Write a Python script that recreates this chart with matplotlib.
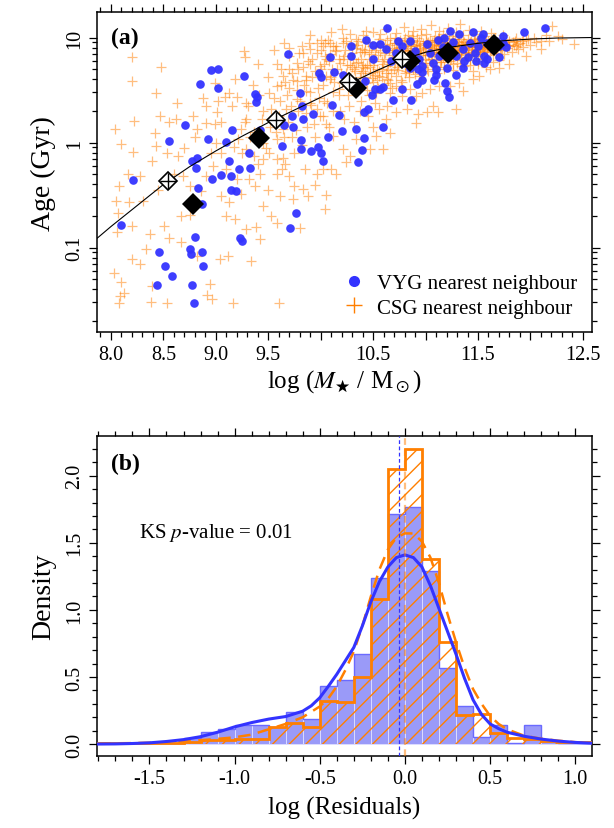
import numpy as np
import matplotlib
matplotlib.use("Agg")
import matplotlib.pyplot as plt
from matplotlib.lines import Line2D
from matplotlib.ticker import MultipleLocator, FixedLocator, FixedFormatter, LogLocator, NullFormatter, FuncFormatter

plt.rcParams['font.family'] = ['Liberation Serif', 'DejaVu Serif']
plt.rcParams['mathtext.fontset'] = 'stix'
plt.rcParams['hatch.linewidth'] = 1.0

# ---------------- panel (a) data: log stellar mass, log10 age (Gyr) -------------
vyg_logm = [8.21, 8.10, 8.55, 8.71, 8.85, 8.95, 9.02, 9.02, 9.27, 9.37, 9.39, 9.38, 9.10, 9.15, 8.93, 8.82,
            8.77, 8.81, 8.83, 8.87, 8.96, 9.05, 9.13, 9.14, 9.14, 9.19, 9.22, 9.32, 9.33, 9.42, 9.63, 9.65,
            9.73, 9.74, 9.83, 9.93, 9.81, 9.81, 9.91, 9.97, 10.00, 10.02, 10.07, 10.11, 10.17, 10.20, 10.34,
            10.41, 10.39, 10.36, 10.41, 10.45, 10.59, 9.76, 9.71, 9.23, 9.25, 8.80, 8.75, 8.76, 8.87, 8.88,
            8.46, 8.52, 8.58, 8.44, 8.77, 8.79, 9.69, 9.80, 9.82, 9.98, 10.00, 10.09, 10.13, 10.21, 10.29,
            10.29, 10.28, 10.42, 10.43, 10.50, 10.50, 10.49, 10.52, 10.57, 10.59, 10.57, 10.63, 10.62, 10.69,
            10.78, 10.86, 10.92, 10.97, 11.08, 11.10, 11.19, 11.20, 11.22, 11.29, 11.56, 11.70, 11.94, 12.14,
            11.74, 10.67, 10.74, 10.78, 10.85, 10.90, 10.94, 10.97, 11.01, 11.04, 11.07, 11.12, 11.13, 11.17,
            11.20, 11.23, 11.26, 11.29, 11.32, 11.36, 11.37, 11.42, 11.45, 11.47, 11.50, 11.53, 11.56, 11.59,
            11.64, 11.67, 11.74, 11.77, 10.97, 10.93, 10.85, 10.80, 10.72, 11.10, 11.18, 11.36, 11.40, 11.55,
            11.70, 11.59, 11.48]
vyg_logage = [-0.36, -0.79, 0.016, 0.165, 0.559, 0.692, 0.699, 0.518, 0.638, 0.46, 0.429, 0.387, 0.006, 0.118,
              0.032, -0.143, -0.174, -0.238, -0.435, -0.581, -0.343, -0.311, -0.174, -0.317, -0.454, -0.466,
              -0.254, -0.095, -0.238, 0.121, -0.032, 0.168, 0.248, 0.149, 0.222, 0.276, 0.022, -0.063, -0.076,
              -0.041, -0.095, -0.174, 0.054, 0.353, 0.264, 0.111, 0.127, 0.041, -0.07, -0.184, 0.292, 0.324,
              0.149, -0.673, -0.816, -0.905, -0.936, -0.895, -1.016, -1.057, -1.041, -1.178, -1.047, -1.178,
              -1.27, -1.359, -1.359, -1.524, 0.841, 0.476, 0.349, 0.66, 0.626, 0.81, 0.676, 0.645, 0.921,
              0.826, 0.565, 0.587, 0.978, 0.933, 0.80, 0.448, 0.508, 0.508, 0.53, 0.943, 1.086, 0.895, 0.406,
              0.508, 0.406, 0.556, 0.594, 0.594, 0.645, 0.565, 0.489, 0.438, 0.645, 0.753, 0.81, 1.054, 1.086,
              1.01, 0.778, 0.968, 0.921, 0.968, 0.873, 0.794, 0.73, 0.937, 0.857, 0.762, 0.978, 0.826, 0.905,
              0.714, 1.064, 0.959, 0.826, 1.032, 0.889, 0.778, 0.952, 1.048, 0.857, 0.921, 1.0, 0.826, 0.952,
              0.889, 0.968, 0.952, 0.905, 0.667, 0.698, 0.714, 0.762, 0.857, 0.698, 1.0, 0.714, 0.81, 1.032,
              0.921, 0.794, 0.778]

csg_logm = [8.04, 8.20, 8.20, 8.10, 8.21, 8.22, 8.43, 8.48, 8.63, 8.62, 8.47, 8.42, 8.43, 8.39, 8.53, 8.64,
            8.16, 8.28, 8.08, 8.05, 8.17, 8.31, 8.07, 8.20, 8.06, 8.37, 8.55, 8.67, 8.33, 8.20, 8.28, 8.03,
            8.10, 8.09, 8.12, 8.08, 8.39, 8.38, 8.53, 8.92, 8.96, 9.16, 9.60, 8.94, 8.77, 8.75, 8.67, 8.51,
            8.69, 8.75, 8.86, 8.91, 8.97, 9.05, 8.78, 8.82, 8.91, 8.99, 9.01, 8.91, 9.02, 8.99, 9.09, 9.13,
            9.20, 9.18, 9.27, 9.28, 9.29, 9.29, 9.24, 9.21, 9.17, 9.29, 9.36, 9.40, 9.45, 9.32, 9.37, 9.24,
            9.13, 9.05, 9.10, 9.18, 9.29, 9.42, 9.34, 9.12, 9.04, 8.82,
            9.45, 9.51, 9.58, 9.63, 9.70, 9.75, 9.83, 9.88, 9.74, 9.61, 9.53, 9.58, 9.80, 10.04, 9.96, 10.02,
            10.10, 9.58, 9.64, 9.67, 9.77, 9.86, 9.90, 9.96, 10.02, 10.05, 10.12, 10.21, 10.28, 10.24, 10.34,
            10.47, 10.59, 10.53, 10.66, 10.56, 10.63, 10.72, 10.82, 10.93, 11.01, 11.07, 10.91, 9.51, 9.58,
            9.64, 9.70, 9.77, 9.83, 9.90, 9.96, 10.02, 10.09, 10.04, 9.90, 9.99, 10.09, 10.17, 9.86, 9.77,
            9.70, 10.21, 10.15, 10.21, 10.28, 10.34, 10.39, 10.34, 10.42, 10.50, 10.56, 10.63, 10.66, 10.72,
            10.78, 10.85, 10.91, 10.97, 11.04, 11.13, 11.23, 11.32, 11.36, 11.45, 11.51, 11.61, 11.70, 11.80,
            11.96, 12.10, 12.18, 12.26, 12.42, 12.21, 11.93, 11.86, 11.29, 11.12,
            10.30, 10.32, 10.35, 10.37, 10.38, 10.40, 10.42, 10.44, 10.45, 10.47, 10.48, 10.50, 10.51, 10.53,
            10.54, 10.56, 10.57, 10.58, 10.60, 10.61, 10.62, 10.63, 10.65, 10.66, 10.67, 10.68, 10.70, 10.71,
            10.72, 10.73, 10.74, 10.75, 10.76, 10.77, 10.78, 10.79, 10.80, 10.81, 10.82, 10.83, 10.84, 10.85,
            10.86, 10.87, 10.88, 10.89, 10.90, 10.91, 10.92, 10.93, 10.94, 10.95, 10.96, 10.97, 10.98, 10.99,
            11.00, 11.01, 11.02, 11.03, 11.04, 11.05, 11.06, 11.07, 11.08, 11.09, 11.10, 11.11, 11.12, 11.13,
            11.14, 11.15, 11.16, 11.17, 11.18, 11.19, 11.20, 11.21, 11.22, 11.23, 11.24, 11.25, 11.26, 11.27,
            11.28, 11.29, 11.30, 11.31, 11.32, 11.33, 11.34, 11.35, 11.36, 11.37, 11.38, 11.39, 11.40, 11.41,
            11.42, 11.43, 11.44, 11.45, 11.46, 11.47, 11.48, 11.49, 11.50, 11.51, 11.52, 11.53, 11.54, 11.55,
            11.56, 11.57, 11.58, 11.59, 11.60, 11.61, 11.62, 11.63, 11.64, 11.65, 11.66, 11.67, 11.68, 11.70,
            11.71, 11.72, 11.74, 11.75, 11.76, 11.78, 11.80, 11.82, 11.84, 11.86, 11.88, 11.90, 11.93, 11.96,
            12.00, 12.05,
            10.76, 10.80, 10.84, 10.88, 10.91, 10.95, 10.99, 11.02, 11.05, 11.08, 11.11, 11.14, 11.17, 11.20,
            11.23, 11.26, 11.28, 11.31, 11.34, 11.37, 11.40, 11.43, 11.46, 11.49, 11.52, 11.55, 11.58, 11.61,
            11.64, 11.67, 10.72, 10.86, 11.00, 11.13, 11.25, 11.39, 11.51, 11.63,
            9.45, 9.50, 9.52, 9.55, 9.58, 9.60, 9.62, 9.65, 9.68, 9.70, 9.72, 9.74, 9.76, 9.78, 9.80, 9.82,
            9.84, 9.86, 9.88, 9.90, 9.92, 9.94, 9.96, 9.98, 10.00, 10.02, 10.04, 10.06, 10.08, 10.10, 10.12,
            10.14, 10.16, 10.18, 10.20, 10.22, 10.24, 10.26, 10.28, 10.30, 10.33, 10.36, 10.38, 10.40, 10.43,
            10.46, 10.49, 10.52, 10.55, 9.55, 9.65, 9.90, 10.00, 10.10, 10.20, 9.35, 9.40, 9.28, 9.33, 9.25,
            9.42, 9.50, 9.58, 9.66, 9.75, 9.85, 9.95, 10.05, 10.15, 9.45, 9.38, 9.20, 9.10, 9.00, 8.95, 9.05,
            9.15, 8.88, 8.80, 8.70, 8.60, 8.55, 8.45]
csg_logage = [0.127, 0.81, 0.587, -0.016, -0.089, 0.206, 0.467, 0.721, 0.372, 0.222, 0.254, 0.095, -0.032,
              -0.174, -0.101, -0.127, -0.301, -0.317, -0.413, -0.556, -0.571, -0.556, -0.667, -0.794, -0.851,
              -0.873, -0.905, -0.952, -1.016, -1.111, -1.159, -1.238, -1.333, -1.46, -1.435, -1.524, -1.365,
              -1.517, -1.524, -1.454, -1.492, -1.524, -1.524, -1.352, -0.619, -0.692, -0.698, -0.794, -0.317,
              -0.413, -0.46, -0.317, -0.222, -0.095, 0.254, 0.127, 0.19, 0.175, 0.286, 0.349, 0.397, 0.571,
              0.429, 0.476, 0.438, 0.603, 0.873, 0.81, 0.372, 0.222, 0.127, 0.032, -0.047, -0.063, -0.127,
              -0.206, -0.159, -0.349, -0.413, -0.492, -0.571, -0.508, -0.698, -0.73, -0.825, -0.92, -1.127,
              -1.079, -1.111, -1.079,
              0.0, -0.095, -0.159, -0.254, -0.317, -0.413, -0.444, -0.508, -0.54, -0.508, -0.698, -0.762,
              -0.81, -0.635, -0.302, -0.254, -0.254, 0.032, 0.127, 0.317, 0.413, 0.492, 0.381, 0.317, 0.254,
              0.175, 0.063, -0.063, -0.127, -0.19, 0.032, -0.063, -0.063, 0.063, 0.095, 0.317, 0.349, 0.286,
              0.317, 0.27, 0.286, 0.349, 0.19, 0.476, 0.54, 0.635, 0.698, 0.762, 0.857, 0.889, 0.952, 0.921,
              0.952, 0.825, 0.746, 0.73, 0.603, 0.508, 0.635, 0.587, 0.524, 0.794, 0.873, 0.952, 1.032, 0.984,
              0.889, 0.762, 0.714, 0.667, 0.635, 0.603, 0.476, 0.54, 0.444, 0.508, 0.444, 0.476, 0.508, 0.54,
              0.54, 0.571, 0.492, 0.603, 0.635, 0.698, 0.714, 0.746, 0.825, 0.889, 0.968, 1.016, 0.937, 1.111,
              0.984, 0.921, 0.317, 0.286,
              0.85, 0.70, 0.93, 0.62, 0.80, 1.02, 0.88, 0.74, 0.96, 0.66, 0.84, 1.05, 0.78, 0.91, 0.70, 0.99,
              0.86, 0.62, 0.80, 0.94, 1.08, 0.73, 0.88, 1.00, 0.66, 0.83, 0.95, 0.76, 1.04, 0.89, 0.69, 0.82,
              0.98, 0.60, 0.87, 1.10, 0.74, 0.93, 0.80, 1.02, 0.67, 0.88, 0.96, 0.77, 1.06, 0.84, 0.71, 0.92,
              1.00, 0.81, 0.63, 0.89, 1.08, 0.76, 0.95, 0.85, 1.03, 0.70, 0.90, 0.79, 0.98, 1.12, 0.86, 0.74,
              0.94, 1.01, 0.82, 0.66, 0.90, 1.06, 0.77, 0.96, 0.87, 1.03, 0.72, 0.92, 0.83, 1.09, 0.98, 0.78,
              0.89, 1.01, 0.69, 0.94, 0.85, 1.05, 0.76, 0.97, 0.88, 1.13, 0.81, 0.93, 1.02, 0.73, 0.90, 0.84,
              0.99, 1.07, 0.79, 0.91, 0.86, 0.68, 0.96, 1.03, 0.82, 0.93, 0.75, 0.99, 0.88, 1.06, 0.80, 0.94,
              0.86, 1.01, 0.72, 0.91, 0.97, 0.83, 1.04, 0.89, 0.77, 0.95, 1.00, 0.85, 0.92, 0.79, 0.98, 0.88,
              1.02, 0.84, 0.94, 0.90, 0.97, 0.86, 0.93, 1.00, 0.89, 0.95, 0.91, 0.98, 0.93, 0.96,
              0.90, 0.85, 0.97, 0.80, 0.87, 0.93, 0.80, 0.96, 0.84, 0.89, 0.97, 0.86, 0.81, 0.95, 0.88, 0.82,
              0.99, 0.91, 0.86, 0.96, 0.89, 0.83, 0.91, 0.98, 0.84, 0.90, 0.95, 0.89, 0.93, 0.88, 0.81, 0.85,
              0.91, 0.93, 0.92, 0.94, 0.87, 0.98,
              0.30, 0.62, 0.15, 0.42, 0.75, 0.25, 0.55, 0.05, 0.45, 0.82, 0.35, 0.60, 0.12, 0.70, 0.40, 0.92,
              0.55, 0.28, 0.78, 0.48, 0.62, 0.18, 0.85, 0.42, 0.70, 0.55, 0.95, 0.38, 0.78, 0.62, 0.48, 0.88,
              0.70, 0.30, 0.57, 0.82, 0.66, 0.45, 0.74, 0.60, 0.50, 0.77, 0.40, 0.68, 0.57, 0.45, 0.61, 0.38,
              0.52, 0.88, 0.95, 1.02, 0.98, 1.05, 1.08, 0.55, 0.75, 0.20, 0.05, -0.10, -0.30, -0.45, -0.30,
              -0.20, -0.10, -0.25, -0.40, -0.50, -0.30, -0.60, -0.80, -0.35, -0.25, 0.00, -0.10, 0.20, 0.35,
              0.42, 0.05, -0.05, -0.30, 0.20, -0.45]

# additional CSG neighbours in the crowded high-mass / mid-mass regions
csg_dense_logm = [10.36, 10.39, 10.41, 10.43, 10.46, 10.49, 10.52, 10.55, 10.57, 10.59, 10.62, 10.64, 10.66,
                  10.69, 10.71, 10.73, 10.75, 10.77, 10.79, 10.81, 10.83, 10.85, 10.87, 10.89, 10.90, 10.92,
                  10.94, 10.96, 10.98, 11.00, 11.01, 11.03, 11.05, 11.06, 11.08, 11.10, 11.12, 11.13, 11.15,
                  11.16, 11.18, 11.19, 11.21, 11.22, 11.24, 11.26, 11.27, 11.29, 11.30, 11.32, 11.33, 11.35,
                  11.36, 11.38, 11.40, 11.41, 11.43, 11.44, 11.46, 11.47, 11.49, 11.50, 11.52, 11.54, 11.55,
                  11.57, 11.59, 11.60, 11.62, 11.64, 11.66, 11.68, 11.70, 11.73, 11.77, 11.79, 11.83, 11.87,
                  11.92, 11.98, 12.03, 12.10, 12.15, 12.30,
                  9.62, 9.66, 9.70, 9.73, 9.77, 9.79, 9.83, 9.86, 9.89, 9.92, 9.95, 9.97, 10.00, 10.03, 10.05,
                  10.07, 10.09, 10.11, 10.13, 10.15, 10.17, 10.19, 10.21, 10.23, 10.25, 10.27, 10.29, 10.31,
                  10.33, 10.35, 10.37, 10.40, 10.42, 10.44, 10.47, 10.50, 10.53, 10.56, 10.60, 10.64, 10.68,
                  10.72, 10.78, 10.84, 10.90, 10.96, 11.02, 11.10, 11.18, 11.26, 11.34, 11.42, 11.50, 11.58,
                  9.31, 9.36, 9.41, 9.44, 9.48, 9.53, 9.57, 9.61, 9.64, 9.69, 9.73, 9.78, 9.82, 9.87, 9.91,
                  9.95, 9.99, 10.03, 10.08, 10.12, 10.17, 10.22, 10.27, 10.32, 10.37, 10.45, 10.50, 10.62,
                  10.52, 10.55, 10.58, 10.61, 10.63, 10.66, 10.68, 10.70, 10.72, 10.74, 10.76, 10.78, 10.80,
                  10.82, 10.84, 10.86, 10.88, 10.90, 10.92, 10.94, 10.96, 10.98, 11.00, 11.02, 11.04, 11.06,
                  11.08, 11.10, 11.12, 11.14, 11.16, 11.18, 11.20, 11.22, 11.24, 11.26, 11.28, 11.30, 11.32,
                  11.34, 11.36, 11.38, 11.40, 11.42, 11.44, 11.46, 11.48, 11.50, 11.52, 11.54, 11.56, 11.58,
                  11.60, 11.62, 11.65, 11.68, 11.71, 11.75, 11.80, 11.85,
                  10.05, 10.12, 10.18, 10.24, 10.30, 10.34, 10.38, 10.42, 10.46, 10.50, 10.54, 10.58, 10.62,
                  10.66, 10.70, 10.80, 10.88, 10.98, 11.06, 11.15]
csg_dense_logage = [0.97, 0.72, 0.86, 1.06, 0.80, 0.92, 0.64, 0.83, 1.03, 0.75, 0.88, 0.69, 0.93, 0.81, 1.00,
                    0.72, 0.91, 0.84, 0.97, 0.68, 0.90, 0.82, 1.01, 0.93, 0.78, 0.86, 0.97, 0.83, 0.90, 0.76,
                    0.95, 0.87, 0.92, 0.80, 0.98, 0.88, 0.84, 0.99, 0.79, 0.92, 0.87, 1.00, 0.85, 0.92, 0.80,
                    0.95, 0.88, 0.91, 0.84, 0.96, 0.79, 0.89, 0.94, 0.86, 0.81, 0.92, 0.97, 0.88, 0.84, 0.93,
                    0.89, 0.96, 0.91, 0.86, 0.98, 0.92, 0.87, 0.93, 0.95, 0.86, 0.91, 0.96, 0.93, 0.88, 0.99,
                    0.93, 0.96, 0.94, 0.97, 0.99, 1.00, 0.97, 1.02, 0.99,
                    0.70, 0.58, 0.90, 0.66, 0.50, 0.85, 0.72, 0.60, 0.95, 0.80, 0.68, 0.52, 0.88, 0.75, 0.63,
                    0.98, 0.84, 0.70, 0.58, 0.92, 0.80, 0.66, 1.00, 0.88, 0.74, 0.62, 0.94, 0.80, 0.68, 0.55,
                    0.86, 0.74, 0.62, 0.50, 0.72, 0.58, 0.47, 0.68, 0.55, 0.60, 0.52, 0.63, 0.58, 0.62, 0.65,
                    0.60, 0.68, 0.72, 0.70, 0.75, 0.73, 0.74, 0.78, 0.80,
                    0.35, 0.10, 0.45, 0.22, -0.05, 0.32, 0.10, 0.40, -0.15, 0.20, 0.05, 0.30, -0.02, 0.15, 0.36,
                    0.05, 0.25, 0.40, 0.15, 0.30, 0.45, 0.22, 0.35, 0.20, 0.30, 0.25, 0.15, 0.22,
                    0.88, 0.95, 0.78, 0.85, 0.98, 0.77, 0.90, 0.86, 0.95, 0.78, 0.84, 0.94, 1.00, 0.88, 0.76,
                    0.92, 0.98, 0.84, 0.94, 0.88, 1.02, 0.86, 0.97, 0.83, 0.91, 0.96, 0.85, 0.93, 1.00, 0.90,
                    0.84, 0.96, 0.89, 0.82, 0.95, 0.99, 0.87, 0.94, 0.83, 0.99, 0.90, 0.93, 0.85, 0.96, 0.91,
                    0.99, 0.87, 0.92, 1.00, 0.94, 0.89, 0.97, 0.91, 0.88, 0.97, 0.93, 0.90, 0.96, 0.92, 0.97,
                    0.80, 0.92, 0.76, 0.97, 0.72, 0.90, 0.66, 0.96, 0.86, 0.74, 0.60, 0.70, 0.66, 0.57, 0.70,
                    0.66, 0.70, 0.72, 0.76, 0.77]

# binned medians (filled diamonds) and fit-bin points (diamond-plus)
med_logm = [8.78, 9.41, 10.34, 10.85, 11.21, 11.65]
med_age = [0.262, 1.10, 3.27, 6.0, 7.05, 8.5]
fit_logm = [8.54, 9.57, 10.27, 10.78]
fit_age = [0.43, 1.64, 3.78, 6.2]

# relation curve
rel_logm = [7.87, 8.0, 8.25, 8.5, 8.75, 9.0, 9.25, 9.5, 9.75, 10.0, 10.25, 10.5, 10.75, 11.0,
            11.25, 11.5, 11.75, 12.0, 12.25, 12.59]
rel_logage = [-0.91, -0.80, -0.60, -0.40, -0.23, -0.08, 0.06, 0.19, 0.31, 0.43, 0.55, 0.67, 0.78,
              0.86, 0.91, 0.945, 0.97, 0.985, 0.995, 1.0]

# ---------------- panel (b) data ----------------
bin_edges = [-1.8, -1.7, -1.6, -1.5, -1.4, -1.3, -1.2, -1.1, -1.0, -0.9, -0.8, -0.7, -0.6, -0.5, -0.4,
             -0.3, -0.2, -0.1, 0.0, 0.1, 0.2, 0.3, 0.4, 0.5, 0.6, 0.7, 0.8, 0.9, 1.0, 1.1]
vyg_density = [0.005, 0.005, 0.01, 0.01, 0.01, 0.047, 0.092, 0.11, 0.142, 0.142, 0.13, 0.236, 0.19, 0.43,
               0.474, 0.67, 1.236, 1.712, 1.764, 1.287, 0.569, 0.286, 0.05, 0.142, 0.01, 0.142, 0.025,
               0.01, 0.005]
csg_density = [0.01, 0.01, 0.01, 0.01, 0.01, 0.017, 0.03, 0.03, 0.037, 0.037, 0.124, 0.154, 0.124, 0.323,
               0.31, 0.497, 1.08, 2.05, 2.203, 1.38, 0.763, 0.213, 0.224, 0.085, 0.047, 0.04, 0.025,
               0.012, 0.012]

vyg_curve_x = [-1.8, -1.7, -1.6, -1.5, -1.4, -1.3, -1.2, -1.1, -1.0, -0.9, -0.8, -0.7, -0.6, -0.55, -0.5,
               -0.45, -0.4, -0.35, -0.3, -0.25, -0.2, -0.15, -0.1, -0.05, 0.0, 0.05, 0.1, 0.15, 0.2, 0.25,
               0.3, 0.35, 0.4, 0.45, 0.5, 0.55, 0.6, 0.7, 0.8, 0.9, 1.0, 1.1]
vyg_curve_y = [0.0, 0.001, 0.004, 0.009, 0.019, 0.033, 0.055, 0.088, 0.128, 0.16, 0.186, 0.205, 0.245,
               0.285, 0.345, 0.43, 0.52, 0.62, 0.72, 0.88, 1.06, 1.21, 1.32, 1.39, 1.41, 1.39, 1.32, 1.18,
               1.01, 0.84, 0.67, 0.49, 0.33, 0.22, 0.15, 0.115, 0.088, 0.058, 0.037, 0.022, 0.012, 0.006]
csg_curve_x = [-1.8, -1.6, -1.43, -1.3, -1.13, -1.0, -0.9, -0.8, -0.7, -0.6, -0.5, -0.45, -0.4, -0.35,
               -0.3, -0.25, -0.2, -0.15, -0.1, -0.05, 0.0, 0.05, 0.1, 0.15, 0.2, 0.25, 0.3, 0.35, 0.4,
               0.45, 0.5, 0.55, 0.6, 0.7, 0.8, 0.9, 1.0, 1.1]
csg_curve_y = [0.004, 0.007, 0.012, 0.02, 0.035, 0.05, 0.07, 0.11, 0.15, 0.2, 0.28, 0.34, 0.43, 0.55,
               0.69, 0.88, 1.1, 1.3, 1.45, 1.54, 1.57, 1.57, 1.51, 1.39, 1.2, 0.97, 0.76, 0.57, 0.41,
               0.3, 0.21, 0.15, 0.11, 0.062, 0.04, 0.025, 0.014, 0.008]
vyg_median = -0.035
csg_median = 0.0

BLUE = '#3333ff'
ORANGE = '#ff7f00'

fig = plt.figure(figsize=(6.14, 8.29), dpi=100)
ax1 = fig.add_axes([0.158, 0.598, 0.806, 0.386])
ax2 = fig.add_axes([0.158, 0.0872, 0.806, 0.3853])

# ---- panel a ----
all_csg_m = list(csg_logm) + list(csg_dense_logm)
all_csg_a = 10 ** np.array(list(csg_logage) + list(csg_dense_logage))
ax1.plot(all_csg_m, all_csg_a, '+', color=ORANGE, alpha=0.5, ms=7, mew=0.9, zorder=2)
ax1.plot(vyg_logm, 10 ** np.array(vyg_logage), 'o', color=BLUE, ms=6.2, mew=0, alpha=0.95, zorder=3)
ax1.plot(rel_logm, 10 ** np.array(rel_logage), '-', color='black', lw=0.8, zorder=4)
ax1.plot(med_logm, med_age, 'D', color='black', ms=11, mew=0, zorder=5)
ax1.plot(fit_logm, fit_age, 'D', mfc='white', mec='black', ms=9, mew=1.2, zorder=6)
ax1.plot(fit_logm, fit_age, '+', color='black', ms=12, mew=1.0, zorder=7)

ax1.set_yscale('log')
ax1.set_xlim(7.867, 12.586)
ax1.set_ylim(0.0156, 17.4)
ax1.xaxis.set_major_locator(FixedLocator([8.0, 8.5, 9.0, 9.5, 10.0, 10.5, 11.0, 11.5, 12.0, 12.5]))
ax1.xaxis.set_major_formatter(FixedFormatter(['8.0', '8.5', '9.0', '9.5', '', '10.5', '', '11.5', '', '12.5']))
ax1.xaxis.set_minor_locator(MultipleLocator(0.1))
ax1.yaxis.set_major_locator(FixedLocator([0.1, 1, 10]))
ax1.yaxis.set_major_formatter(FixedFormatter(['0.1', '1', '10']))
ax1.yaxis.set_minor_locator(LogLocator(base=10, subs=np.arange(2, 10)))
ax1.yaxis.set_minor_formatter(NullFormatter())
ax1.set_xlabel(r'log ($M_\bigstar$ / M$_\odot$)', fontsize=18, labelpad=2)
ax1.set_ylabel('Age (Gyr)', fontsize=20, labelpad=6)
ax1.text(0.028, 0.92, '(a)', transform=ax1.transAxes, fontsize=17, fontweight='bold', va='center', ha='left')

handles = [Line2D([], [], marker='o', ls='none', color=BLUE, ms=8, mew=0),
           Line2D([], [], marker='+', ls='none', color=ORANGE, ms=11, mew=1.0)]
ax1.legend(handles, ['VYG nearest neighbour', 'CSG nearest neighbour'], loc='lower right',
           frameon=False, fontsize=15, handletextpad=0.5, borderaxespad=0.3, labelspacing=0.25,
           handlelength=1.2)

# ---- panel b ----
edges = np.array(bin_edges)
lefts = edges[:-1]
widths = np.diff(edges)
ax2.bar(lefts, vyg_density, width=widths, align='edge', color='#9a9af8', edgecolor='#dcdcff', lw=0.7, zorder=2)
ax2.stairs(vyg_density, edges, color='#6a6aff', lw=1.0, zorder=2.5)
ax2.bar(lefts, csg_density, width=widths, align='edge', facecolor='none', edgecolor=ORANGE, lw=0,
        hatch='//', zorder=3)
ax2.stairs(csg_density, edges, color=ORANGE, lw=2.0, zorder=4)
ax2.plot(csg_curve_x, csg_curve_y, '--', color=ORANGE, lw=1.8, dashes=(5, 3), zorder=5)
ax2.plot(vyg_curve_x, vyg_curve_y, '-', color=BLUE, lw=2.2, zorder=6)
ax2.axvline(vyg_median, color=BLUE, ls='--', lw=0.9, dashes=(3, 2), zorder=7)
ax2.axvline(csg_median, color=ORANGE, ls='--', lw=1.6, alpha=0.5, dashes=(3, 2), zorder=7)

ax2.set_xlim(-1.808, 1.098)
ax2.set_ylim(-0.087, 2.294)
ax2.xaxis.set_major_locator(MultipleLocator(0.5))
ax2.xaxis.set_minor_locator(MultipleLocator(0.1))
ax2.yaxis.set_major_locator(MultipleLocator(0.5))
ax2.yaxis.set_minor_locator(MultipleLocator(0.1))
ax2.xaxis.set_major_formatter(FuncFormatter(lambda v, p: f'{v:.1f}'))
ax2.yaxis.set_major_formatter(FuncFormatter(lambda v, p: f'{v:.1f}'))
ax2.set_xlabel('log (Residuals)', fontsize=18, labelpad=6)
ax2.set_ylabel('Density', fontsize=20, labelpad=6)
ax2.text(0.028, 0.916, '(b)', transform=ax2.transAxes, fontsize=17, fontweight='bold', va='center', ha='left')
ax2.text(-1.56, 1.58, r'KS $p$-value = 0.01', fontsize=15, va='center', ha='left')

for ax in (ax1, ax2):
    ax.tick_params(which='both', direction='out', top=True, right=True, labelsize=14.5, width=0.9)
    ax.tick_params(which='major', length=6)
    ax.tick_params(which='minor', length=3.5)
    for lab in ax.get_yticklabels():
        lab.set_rotation(90)
        lab.set_va('center')
    for s in ax.spines.values():
        s.set_linewidth(1.1)

fig.savefig('out.png', dpi=100)
